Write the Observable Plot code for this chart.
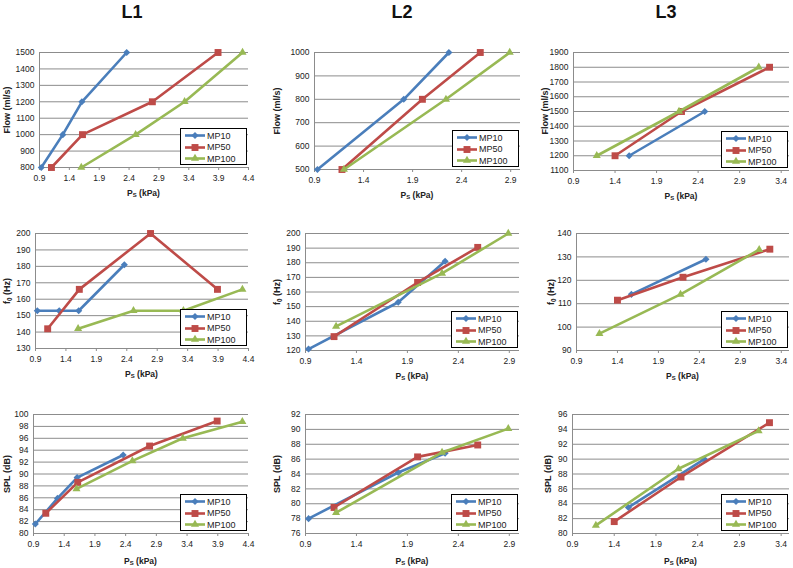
<!DOCTYPE html>
<html>
<head>
<meta charset="utf-8">
<script src="https://cdn.jsdelivr.net/npm/d3@7"></script>
<script src="https://cdn.jsdelivr.net/npm/@observablehq/plot@0.6"></script>
<style>
  body { margin: 0; background: #fff; font-family: "Liberation Sans", Arial, sans-serif; }
  #root { position: relative; width: 793px; height: 568px; overflow: hidden; }
  .abs { position: absolute; white-space: nowrap; }
  .title { font-weight: bold; font-size: 18px; color: #111; transform: translate(-50%, -50%); }
  .xlab { font-weight: bold; font-size: 8.5px; color: #222; transform: translate(-50%, -50%); }
  .ylab { font-weight: bold; font-size: 9px; color: #222; transform: translate(-50%, -50%) rotate(-90deg); }
  sub { font-size: 70%; vertical-align: -0.25em; line-height: 0; }
  .legend { border: 1px solid #000; background: #fff; box-sizing: border-box; padding: 1px 0 0 3px; }
  .legend .row { display: flex; align-items: center; height: 11.5px; font-size: 9px; color: #222; }
  .legend svg { margin-right: 1px; }
</style>
</head>
<body>
<div id="root"></div>
<script>
// ---- Series ----
const series = ["MP10", "MP50", "MP100"];
const colors = ["#4A7EBB", "#BE4B48", "#98B954"];
const symbols = ["diamond2", "square", "triangle"];

// ---- L1 ----
const L1_ps   = [[0.93, 1.29, 1.61, 2.36], [1.10, 1.62, 2.79, 3.89], [1.60, 2.51, 3.33, 4.30]];
const L1_flow = [[800, 1000, 1200, 1500], [800, 1000, 1200, 1500], [800, 1000, 1200, 1500]];
const L1_f0   = [[153, 153, 153, 181], [142, 166, 200, 166], [142, 153, 153, 166]];
const L1_spl  = [[81.6, 85.9, 89.4, 93.2], [83.4, 88.6, 94.7, 98.9], [87.5, 92.2, 96.0, 98.8]];

// ---- L2 ----
const L2_ps   = [[0.93, 1.81, 2.27], [1.18, 2.00, 2.59], [1.20, 2.24, 2.89]];
const L2_flow = [[500, 800, 1000], [500, 800, 1000], [500, 800, 1000]];
const L2_f0   = [[121, 153, 181], [129.5, 166.5, 190.5], [136.5, 172.7, 200]];
const L2_spl  = [[78.0, 84.2, 86.8], [79.5, 86.3, 87.9], [78.8, 86.9, 90.1]];

// ---- L3 ----
const L3_ps   = [[1.57, 2.48], [1.40, 2.20, 3.26], [1.18, 2.17, 3.13]];
const L3_flow = [[1200, 1500], [1200, 1500, 1800], [1200, 1500, 1800]];
const L3_f0   = [[114, 129], [111.5, 121.3, 133.3], [97.2, 114, 133.1]];
const L3_spl  = [[83.5, 90.0], [81.6, 87.6, 94.9], [81.1, 88.7, 93.8]];

// ---- Tick labels ----
const L1_xTicks = [0.9, 1.4, 1.9, 2.4, 2.9, 3.4, 3.9, 4.4];
const L2_xTicks = [0.9, 1.4, 1.9, 2.4, 2.9];
const L3_xTicks = [0.9, 1.4, 1.9, 2.4, 2.9, 3.4];
const L1_flowTicks = [800, 900, 1000, 1100, 1200, 1300, 1400, 1500];
const L2_flowTicks = [500, 600, 700, 800, 900, 1000];
const L3_flowTicks = [1100, 1200, 1300, 1400, 1500, 1600, 1700, 1800, 1900];
const L1_f0Ticks = [130, 140, 150, 160, 170, 180, 190, 200];
const L2_f0Ticks = [120, 130, 140, 150, 160, 170, 180, 190, 200];
const L3_f0Ticks = [90, 100, 110, 120, 130, 140];
const L1_splTicks = [80, 82, 84, 86, 88, 90, 92, 94, 96, 98, 100];
const L2_splTicks = [76, 78, 80, 82, 84, 86, 88, 90, 92];
const L3_splTicks = [80, 82, 84, 86, 88, 90, 92, 94, 96];

const titles = ["L1", "L2", "L3"];

const root = document.getElementById("root");
const symR = {diamond2: 3.2, square: 3.9, triangle: 3.0};

function addHTML(cls, html, left, top) {
  const d = document.createElement("div");
  d.className = "abs " + cls;
  d.innerHTML = html;
  d.style.left = left + "px";
  d.style.top = top + "px";
  root.appendChild(d);
  return d;
}

function swatch(i) {
  const w = 22, h = 11;
  const sym = {diamond2: d3.symbolDiamond2, square: d3.symbolSquare, triangle: d3.symbolTriangle}[symbols[i]];
  const r = symR[symbols[i]];
  const path = d3.symbol(sym, Math.PI * r * r)();
  return `<svg width="${w}" height="${h}"><line x1="1" x2="${w - 1}" y1="${h / 2}" y2="${h / 2}" stroke="${colors[i]}" stroke-width="2.6"/>` +
    `<path transform="translate(${w / 2},${h / 2})" d="${path}" fill="${colors[i]}"/></svg>`;
}

function panel(p) {
  const mL = 40, mR = 4, mT = 6, mB = 22;
  const rows = [];
  series.forEach((s, i) => p.xs[i].forEach((x, j) => rows.push({s, i, x, y: p.ys[i][j]})));
  const marks = [
    Plot.gridY(p.yTicks, {stroke: "#8c8c8c", strokeOpacity: 1, strokeWidth: 1}),
    Plot.ruleX([p.xDomain[0]], {stroke: "#8c8c8c", strokeWidth: 1}),
    Plot.axisX(p.xTicks, {tickSize: 3, tickPadding: 4, tickFormat: d3.format(".1f"), stroke: "#8c8c8c", fill: "#222", label: null}),
    Plot.axisY(p.yTicks, {tickSize: 0, tickPadding: 5, tickFormat: d => String(d), fill: "#222", label: null})
  ];
  series.forEach((s, i) => {
    const d = rows.filter(r => r.i === i);
    marks.push(Plot.line(d, {x: "x", y: "y", stroke: colors[i], strokeWidth: 2.6}));
    marks.push(Plot.dot(d, {x: "x", y: "y", fill: colors[i], symbol: symbols[i], r: symR[symbols[i]]}));
  });
  const chart = Plot.plot({
    width: p.R - p.L + mL + mR,
    height: p.B - p.T + mT + mB,
    marginLeft: mL, marginRight: mR, marginTop: mT, marginBottom: mB,
    style: {fontFamily: "Liberation Sans, Arial, sans-serif", fontSize: "8.5px", color: "#222", background: "transparent", overflow: "visible"},
    x: {domain: p.xDomain},
    y: {domain: [p.yTicks[0], p.yTicks[p.yTicks.length - 1]]},
    marks
  });
  const wrap = document.createElement("div");
  wrap.className = "abs";
  wrap.style.left = (p.L - mL) + "px";
  wrap.style.top = (p.T - mT) + "px";
  wrap.appendChild(chart);
  root.appendChild(wrap);

  // axis titles
  addHTML("xlab", "P<sub>S</sub> (kPa)", (p.L + p.R) / 2, p.xlabY);
  addHTML("ylab", p.ylabel, p.ylabX, (p.T + p.B) / 2);

  // legend
  const lg = addHTML("legend", series.map((s, i) => `<div class="row">${swatch(i)}<span>${s}</span></div>`).join(""), p.R - 68, p.B - 39);
  lg.style.width = "67px";
  lg.style.height = "37px";
}

const flowLab = "Flow (ml/s)", f0Lab = "f<sub>0</sub> (Hz)", splLab = "SPL (dB)";

const panels = [
  {L: 39, T: 52, R: 248, B: 167, xDomain: [0.9, 4.4], xTicks: L1_xTicks, yTicks: L1_flowTicks, xs: L1_ps, ys: L1_flow, ylabel: flowLab, ylabX: 7, xlabY: 193},
  {L: 314, T: 52, R: 520, B: 169, xDomain: [0.9, 3.0], xTicks: L2_xTicks, yTicks: L2_flowTicks, xs: L2_ps, ys: L2_flow, ylabel: flowLab, ylabX: 277, xlabY: 195},
  {L: 573, T: 52, R: 789, B: 170, xDomain: [0.9, 3.5], xTicks: L3_xTicks, yTicks: L3_flowTicks, xs: L3_ps, ys: L3_flow, ylabel: flowLab, ylabX: 545, xlabY: 196},
  {L: 35, T: 233, R: 248, B: 348, xDomain: [0.9, 4.4], xTicks: L1_xTicks, yTicks: L1_f0Ticks, xs: L1_ps, ys: L1_f0, ylabel: f0Lab, ylabX: 7, xlabY: 374},
  {L: 305, T: 233, R: 519, B: 350, xDomain: [0.9, 3.0], xTicks: L2_xTicks, yTicks: L2_f0Ticks, xs: L2_ps, ys: L2_f0, ylabel: f0Lab, ylabX: 277, xlabY: 376},
  {L: 576, T: 233, R: 789, B: 350, xDomain: [0.9, 3.5], xTicks: L3_xTicks, yTicks: L3_f0Ticks, xs: L3_ps, ys: L3_f0, ylabel: f0Lab, ylabX: 551, xlabY: 376},
  {L: 33, T: 414, R: 248, B: 533, xDomain: [0.9, 4.4], xTicks: L1_xTicks, yTicks: L1_splTicks, xs: L1_ps, ys: L1_spl, ylabel: splLab, ylabX: 7, xlabY: 561},
  {L: 305, T: 414, R: 519, B: 533, xDomain: [0.9, 3.0], xTicks: L2_xTicks, yTicks: L2_splTicks, xs: L2_ps, ys: L2_spl, ylabel: splLab, ylabX: 277, xlabY: 561},
  {L: 572, T: 414, R: 789, B: 533, xDomain: [0.9, 3.5], xTicks: L3_xTicks, yTicks: L3_splTicks, xs: L3_ps, ys: L3_spl, ylabel: splLab, ylabX: 548, xlabY: 561}
];

panels.forEach(panel);

addHTML("title", titles[0], 132, 12);
addHTML("title", titles[1], 402, 12);
addHTML("title", titles[2], 666, 12);
</script>
</body>
</html>
